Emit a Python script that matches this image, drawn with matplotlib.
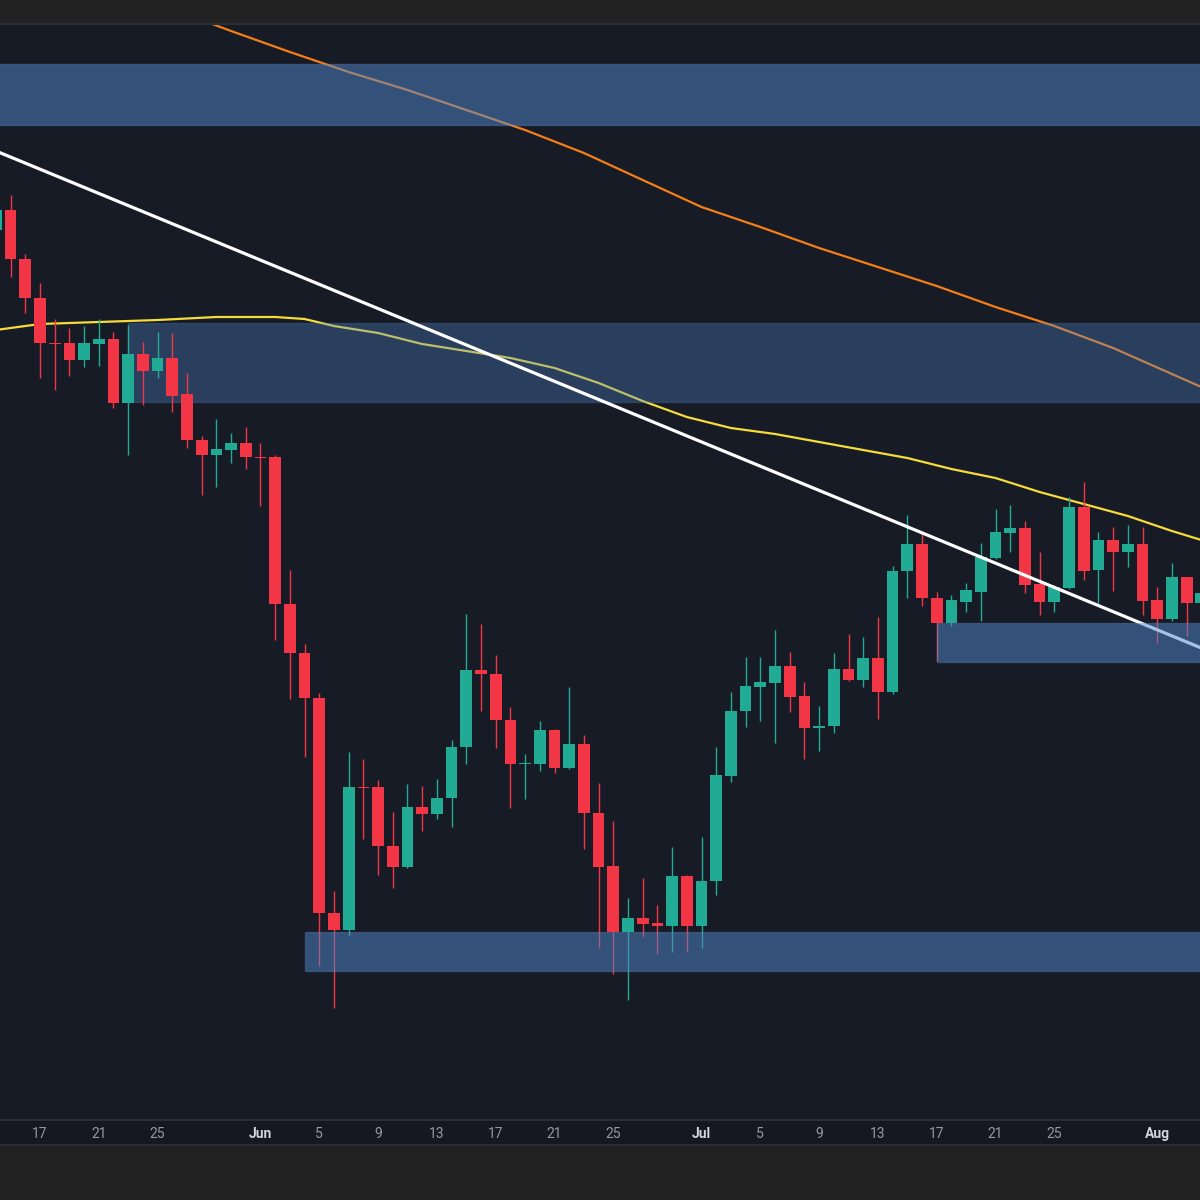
import matplotlib
matplotlib.use("Agg")
import matplotlib.pyplot as plt
import matplotlib.dates as mdates
from matplotlib.patches import Rectangle
from matplotlib.lines import Line2D
from matplotlib import font_manager
import pandas as pd

# ---------------- data (arbitrary price units) ----------------
dates = pd.date_range("2024-05-14", "2024-08-04", freq="D")

opens = [890, 910, 861, 822, 777, 777, 760, 776, 781, 717, 766, 749, 762, 726, 680, 665, 670, 677,
         663, 663, 516, 467, 422, 207, 190, 333, 333, 274, 253, 313, 306, 322, 373, 450, 446, 400,
         356, 356, 390, 352, 376, 307, 254, 188, 202, 197, 194, 244,
         194, 239, 344, 409, 433, 437, 454, 424, 392, 394, 451, 440, 462, 428, 549, 576, 522, 497,
         518, 528, 562, 587, 592, 536, 518, 532, 613, 550, 580, 568, 576,
         520, 501, 543, 517]
highs = [920, 925, 866, 837, 801, 792, 794, 801, 788, 795, 778, 788, 787, 747, 684, 701, 687, 693,
         677, 665, 550, 476, 427, 229, 368, 361, 340, 308, 336, 334, 341, 380, 506, 496, 465, 413,
         366, 399, 391, 433, 385, 337, 299, 222, 242, 215, 273, 245,
         283, 373, 428, 463, 463, 490, 468, 438, 414, 467, 486, 483, 503, 554, 605, 587, 528, 525,
         537, 577, 611, 615, 599, 568, 535, 623, 638, 588, 593, 595, 593,
         533, 557, 543, 530]
lows = [885, 843, 807, 742, 730, 744, 753, 754, 712, 665, 715, 742, 708, 672, 625, 633, 657, 651,
        614, 480, 421, 363, 154, 112, 184, 281, 245, 232, 252, 289, 301, 293, 356, 409, 372, 312,
        321, 349, 347, 351, 271, 172, 146, 120, 183, 166, 168, 168,
        172, 225, 338, 393, 399, 377, 408, 361, 369, 387, 439, 433, 401, 426, 522, 514, 459, 494,
        508, 499, 561, 568, 527, 505, 508, 531, 540, 517, 529, 553, 505,
        477, 499, 484, 515]
closes = [910, 861, 822, 777, 776, 760, 777, 781, 717, 766, 749, 762, 724, 680, 665, 671, 677, 663,
          662, 516, 467, 422, 207, 190, 333, 332, 274, 253, 313, 306, 322, 373, 450, 446, 400, 356,
          357, 390, 352, 376, 307, 253, 188, 202, 196, 194, 244, 194,
          239, 345, 409, 434, 438, 454, 423, 392, 394, 451, 440, 462, 428, 549, 576, 522, 497, 520,
          530, 563, 588, 592, 535, 518, 533, 613, 549, 580, 568, 576, 519,
          501, 543, 517, 527]

# slow moving average (orange)
ma_slow_dates = ["2024-05-14", "2024-05-20", "2024-05-26", "2024-05-30", "2024-06-03", "2024-06-07",
                 "2024-06-11", "2024-06-15", "2024-06-19", "2024-06-23", "2024-06-27", "2024-07-01",
                 "2024-07-05", "2024-07-09", "2024-07-13", "2024-07-17", "2024-07-21", "2024-07-25",
                 "2024-07-29", "2024-08-02", "2024-08-04"]
ma_slow = [1177, 1144, 1111, 1089, 1068, 1048, 1030, 1010, 990, 967, 940, 913,
           893, 872, 853, 834, 813, 794, 772, 746, 733]

# fast moving average (yellow)
ma_fast_dates = ["2024-05-14", "2024-05-17", "2024-05-21", "2024-05-25", "2024-05-29", "2024-06-02",
                 "2024-06-04", "2024-06-06", "2024-06-09", "2024-06-12", "2024-06-15", "2024-06-18",
                 "2024-06-21", "2024-06-24", "2024-06-27", "2024-06-30", "2024-07-03", "2024-07-06",
                 "2024-07-09", "2024-07-12", "2024-07-15", "2024-07-18", "2024-07-21", "2024-07-24",
                 "2024-07-27", "2024-07-30", "2024-08-02", "2024-08-04"]
ma_fast = [790, 796, 798, 800, 803, 803, 801, 794, 787, 776, 769, 762, 752, 737, 719, 703,
           692, 686, 678, 670, 662, 651, 642, 628, 616, 604, 589, 580]

# descending trend line (two anchors)
trend_dates = ["2024-05-14", "2024-08-04"]
trend_vals = [969, 472]

# supply / demand zones: (start date, low, high)
zone_starts = ["2024-05-01", "2024-05-23", "2024-07-17", "2024-06-04"]
zone_lows = [995, 718, 458, 149]
zone_highs = [1056, 797, 497, 188]

tick_dates = ["2024-05-17", "2024-05-21", "2024-05-25", "2024-06-01", "2024-06-05", "2024-06-09",
              "2024-06-13", "2024-06-17", "2024-06-21", "2024-06-25", "2024-07-01", "2024-07-05",
              "2024-07-09", "2024-07-13", "2024-07-17", "2024-07-21", "2024-07-25", "2024-08-01"]
tick_labels = ["17", "21", "25", "Jun", "5", "9", "13", "17", "21", "25", "Jul", "5",
               "9", "13", "17", "21", "25", "Aug"]

# ---------------- style ----------------
names = {f.name for f in font_manager.fontManager.ttflist}
fam = "Liberation Sans Narrow" if "Liberation Sans Narrow" in names else "Roboto"

UP = "#22ab94"
DOWN = "#f23645"
BG = "#171b26"
STRIP = "#151823"
OUTER = "#212121"
BORDER = "#2a2e39"

fig = plt.figure(figsize=(12, 12), dpi=100, facecolor=OUTER)
fig.add_artist(Rectangle((0, 55 / 1200), 1, 25 / 1200, transform=fig.transFigure,
                         facecolor=STRIP, edgecolor="none", zorder=0))
ax = fig.add_axes([0, 80 / 1200, 1, 1096 / 1200])
ax.set_facecolor(BG)

x = mdates.date2num(dates)
base = mdates.date2num(pd.Timestamp("2024-05-17"))
ax.set_xlim(base - 2.72, base + 78.91)
ax.set_ylim(0, 1096)

# moving averages (under zones)
ax.plot(mdates.date2num(pd.to_datetime(ma_slow_dates)), ma_slow, color="#f57f17", lw=1.6,
        zorder=1, solid_capstyle="round", solid_joinstyle="round")
ax.plot(mdates.date2num(pd.to_datetime(ma_fast_dates)), ma_fast, color="#f5dc3a", lw=1.6,
        zorder=1, solid_capstyle="round", solid_joinstyle="round")

zone_alpha = [0.5, 0.34, 0.5, 0.5]
zone_z = [2, 2, 5, 5]
far_right = base + 200
for s, lo, hi, z, a in zip(zone_starts, zone_lows, zone_highs, zone_z, zone_alpha):
    x0 = mdates.date2num(pd.Timestamp(s))
    ax.add_patch(Rectangle((x0, lo), far_right - x0, hi - lo, facecolor=(0.31, 0.53, 0.80, a),
                           edgecolor=(0.40, 0.55, 0.78, a * 0.7), lw=1.0, zorder=z))

# candles
for xi, o, h, l, c in zip(x, opens, highs, lows, closes):
    col = UP if c >= o else DOWN
    ax.vlines(xi, l, h, color=col, lw=1.0, zorder=3)
    ax.bar(xi, max(abs(c - o), 1.5), bottom=min(o, c), width=0.8, color=col,
           edgecolor="none", zorder=3.1)

# trend line
ax.plot(mdates.date2num(pd.to_datetime(trend_dates)), trend_vals, color="white", lw=2.3,
        zorder=4, solid_capstyle="round")

# axes formatting
ax.set_yticks([])
ax.set_xticks(mdates.date2num(pd.to_datetime(tick_dates)))
ax.set_xticklabels(tick_labels)
ax.tick_params(axis="x", length=0, pad=5, labelsize=10, colors="#9598a1")
for lab, txt in zip(ax.get_xticklabels(), tick_labels):
    lab.set_fontfamily(fam)
    if txt in ("Jun", "Jul", "Aug"):
        lab.set_fontweight("bold")
        lab.set_color("#d1d4dc")
for sp in ax.spines.values():
    sp.set_visible(False)

for yy in (1 - 24 / 1200, 80 / 1200, 55 / 1200):
    fig.add_artist(Line2D([0, 1], [yy, yy], transform=fig.transFigure, color=BORDER, lw=1.5))

fig.savefig("out.png", dpi=100, facecolor=OUTER)
